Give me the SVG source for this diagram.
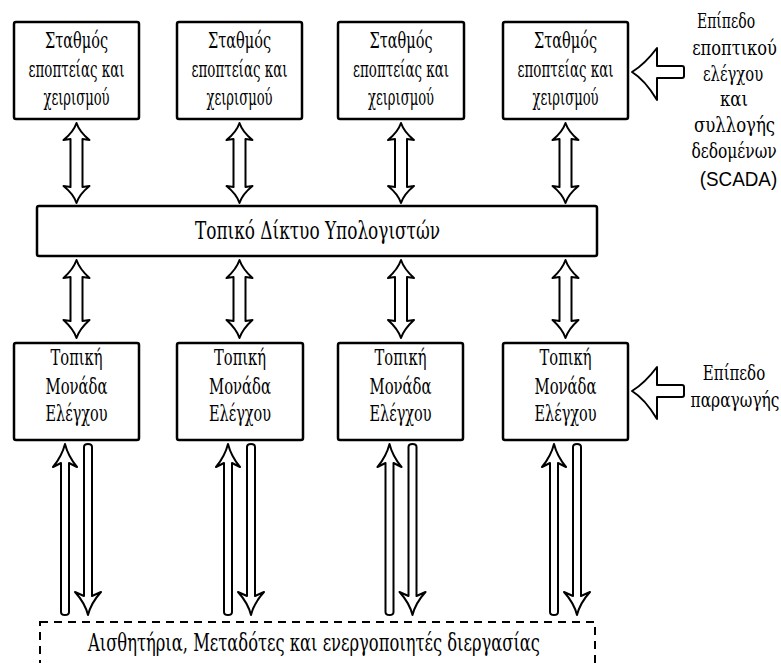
<svg xmlns="http://www.w3.org/2000/svg" width="781" height="663" viewBox="0 0 781 663">
<style>
.box{fill:#fff;stroke:#000;stroke-width:2.5}
.dash{fill:#fff;stroke:#000;stroke-width:2;stroke-dasharray:8 6}
.arr{fill:#fff;stroke:#000;stroke-width:2;stroke-linejoin:round}
text{fill:#000;text-anchor:middle}
.t{font-size:22px}
.r{font-size:21px}
.tl{font-size:24px}
.s{font-size:20px}
</style>
<defs>
<path id="ud1" d="M0,0 Q3,9 13,17 L6,16 L6,64 L13,63 Q3,71 0,80 Q-3,71 -13,63 L-6,64 L-6,16 L-13,17 Q-3,9 0,0 Z"/>
<path id="ud2" d="M0,0 Q3,9 13,18 L6,17 L6,61 L13,60 Q3,69 0,78 Q-3,69 -13,60 L-6,61 L-6,17 L-13,18 Q-3,9 0,0 Z"/>
<path id="up" d="M0,0 Q3,12 12,23 L4,19 L4,168 Q4,171 0,171 Q-4,171 -4,168 L-4,19 L-12,23 Q-3,12 0,0 Z"/>
<path id="down" d="M0,171 Q3,159 13,148 L4,152 L4,3 Q4,0 0,0 Q-4,0 -4,3 L-4,152 L-13,148 Q-3,159 0,171 Z"/>
<path id="side" d="M0,0 Q13,-8 25,-24 L25,-6 L50,-6 Q52,-6 52,-4 L52,4 Q52,6 50,6 L25,6 L25,28 Q13,8 0,0 Z"/>
</defs>

<g id="connectors">
<use href="#ud1" class="arr" x="76.5" y="123"/>
<use href="#ud1" class="arr" x="239.5" y="123"/>
<use href="#ud1" class="arr" x="401" y="123"/>
<use href="#ud1" class="arr" x="565.5" y="123"/>
<use href="#ud2" class="arr" x="76.5" y="260"/>
<use href="#ud2" class="arr" x="239.5" y="260"/>
<use href="#ud2" class="arr" x="401" y="260"/>
<use href="#ud2" class="arr" x="565.5" y="260"/>
<use href="#up" class="arr" x="65" y="444"/>
<use href="#down" class="arr" x="88" y="444"/>
<use href="#up" class="arr" x="228" y="444"/>
<use href="#down" class="arr" x="251" y="444"/>
<use href="#up" class="arr" x="389.5" y="444"/>
<use href="#down" class="arr" x="412.5" y="444"/>
<use href="#up" class="arr" x="554" y="444"/>
<use href="#down" class="arr" x="577" y="444"/>
<use href="#side" class="arr" x="632" y="72"/>
<use href="#side" class="arr" x="632" y="391"/>
</g>

<g font-family="'DejaVu Serif', serif">
<g id="scada1"><rect class="box" x="14" y="22" width="125" height="97" rx="2"/>
<text class="t" x="76.5" y="48" textLength="63" lengthAdjust="spacingAndGlyphs">Σταθμός</text><text class="t" x="76.5" y="77" textLength="96" lengthAdjust="spacingAndGlyphs">εποπτείας και</text><text class="t" x="76.5" y="105" textLength="66" lengthAdjust="spacingAndGlyphs">χειρισμού</text></g>
<g id="scada2"><rect class="box" x="177" y="22" width="125" height="97" rx="2"/>
<text class="t" x="239.5" y="48" textLength="63" lengthAdjust="spacingAndGlyphs">Σταθμός</text><text class="t" x="239.5" y="77" textLength="96" lengthAdjust="spacingAndGlyphs">εποπτείας και</text><text class="t" x="239.5" y="105" textLength="66" lengthAdjust="spacingAndGlyphs">χειρισμού</text></g>
<g id="scada3"><rect class="box" x="338" y="22" width="126" height="97" rx="2"/>
<text class="t" x="401" y="48" textLength="63" lengthAdjust="spacingAndGlyphs">Σταθμός</text><text class="t" x="401" y="77" textLength="96" lengthAdjust="spacingAndGlyphs">εποπτείας και</text><text class="t" x="401" y="105" textLength="66" lengthAdjust="spacingAndGlyphs">χειρισμού</text></g>
<g id="scada4"><rect class="box" x="503" y="22" width="125" height="97" rx="2"/>
<text class="t" x="565.5" y="48" textLength="63" lengthAdjust="spacingAndGlyphs">Σταθμός</text><text class="t" x="565.5" y="77" textLength="96" lengthAdjust="spacingAndGlyphs">εποπτείας και</text><text class="t" x="565.5" y="105" textLength="66" lengthAdjust="spacingAndGlyphs">χειρισμού</text></g>

<g id="lan"><rect class="box" x="37" y="206" width="560" height="50" rx="2"/>
<text class="tl" x="317.5" y="239" textLength="245" lengthAdjust="spacingAndGlyphs">Τοπικό Δίκτυο Υπολογιστών</text></g>

<g id="plc1"><rect class="box" x="14" y="343" width="125" height="97" rx="2"/>
<text class="t" x="76.5" y="365" textLength="52" lengthAdjust="spacingAndGlyphs">Τοπική</text><text class="t" x="76.5" y="394" textLength="62" lengthAdjust="spacingAndGlyphs">Μονάδα</text><text class="t" x="76.5" y="421" textLength="62" lengthAdjust="spacingAndGlyphs">Ελέγχου</text></g>
<g id="plc2"><rect class="box" x="177" y="343" width="126" height="97" rx="2"/>
<text class="t" x="240" y="365" textLength="52" lengthAdjust="spacingAndGlyphs">Τοπική</text><text class="t" x="240" y="394" textLength="62" lengthAdjust="spacingAndGlyphs">Μονάδα</text><text class="t" x="240" y="421" textLength="62" lengthAdjust="spacingAndGlyphs">Ελέγχου</text></g>
<g id="plc3"><rect class="box" x="338" y="343" width="125" height="97" rx="2"/>
<text class="t" x="400.5" y="365" textLength="52" lengthAdjust="spacingAndGlyphs">Τοπική</text><text class="t" x="400.5" y="394" textLength="62" lengthAdjust="spacingAndGlyphs">Μονάδα</text><text class="t" x="400.5" y="421" textLength="62" lengthAdjust="spacingAndGlyphs">Ελέγχου</text></g>
<g id="plc4"><rect class="box" x="503" y="343" width="125" height="97" rx="2"/>
<text class="t" x="565.5" y="365" textLength="52" lengthAdjust="spacingAndGlyphs">Τοπική</text><text class="t" x="565.5" y="394" textLength="62" lengthAdjust="spacingAndGlyphs">Μονάδα</text><text class="t" x="565.5" y="421" textLength="62" lengthAdjust="spacingAndGlyphs">Ελέγχου</text></g>

<g id="field"><rect class="dash" x="40" y="622" width="555" height="70"/>
<text class="tl" x="314" y="651" textLength="452" lengthAdjust="spacingAndGlyphs">Αισθητήρια, Μεταδότες και ενεργοποιητές διεργασίας</text></g>

<g id="label-scada">
<text class="r" transform="translate(726 28) scale(0.7 1)" textLength="83" lengthAdjust="spacingAndGlyphs">Επίπεδο</text>
<text class="r" transform="translate(734.5 55) scale(0.7 1)" textLength="121" lengthAdjust="spacingAndGlyphs">εποπτικού</text>
<text class="r" transform="translate(733 81) scale(0.7 1)" textLength="86" lengthAdjust="spacingAndGlyphs">ελέγχου</text>
<text class="r" transform="translate(734 106) scale(0.7 1)" textLength="40" lengthAdjust="spacingAndGlyphs">και</text>
<text class="r" transform="translate(734.5 132) scale(0.7 1)" textLength="116" lengthAdjust="spacingAndGlyphs">συλλογής</text>
<text class="r" transform="translate(734 158) scale(0.65 1)" textLength="131" lengthAdjust="spacingAndGlyphs">δεδομένων</text>
<text class="s" font-family="'Liberation Sans', Arial, sans-serif" transform="translate(738.5 186) scale(0.9 1)" textLength="86" lengthAdjust="spacingAndGlyphs">(SCADA)</text>
</g>
<g id="label-prod">
<text class="r" transform="translate(734 380) scale(0.7 1)" textLength="89" lengthAdjust="spacingAndGlyphs">Επίπεδο</text>
<text class="r" transform="translate(735 407) scale(0.65 1)" textLength="137" lengthAdjust="spacingAndGlyphs">παραγωγής</text>
</g>
</g>
</svg>
